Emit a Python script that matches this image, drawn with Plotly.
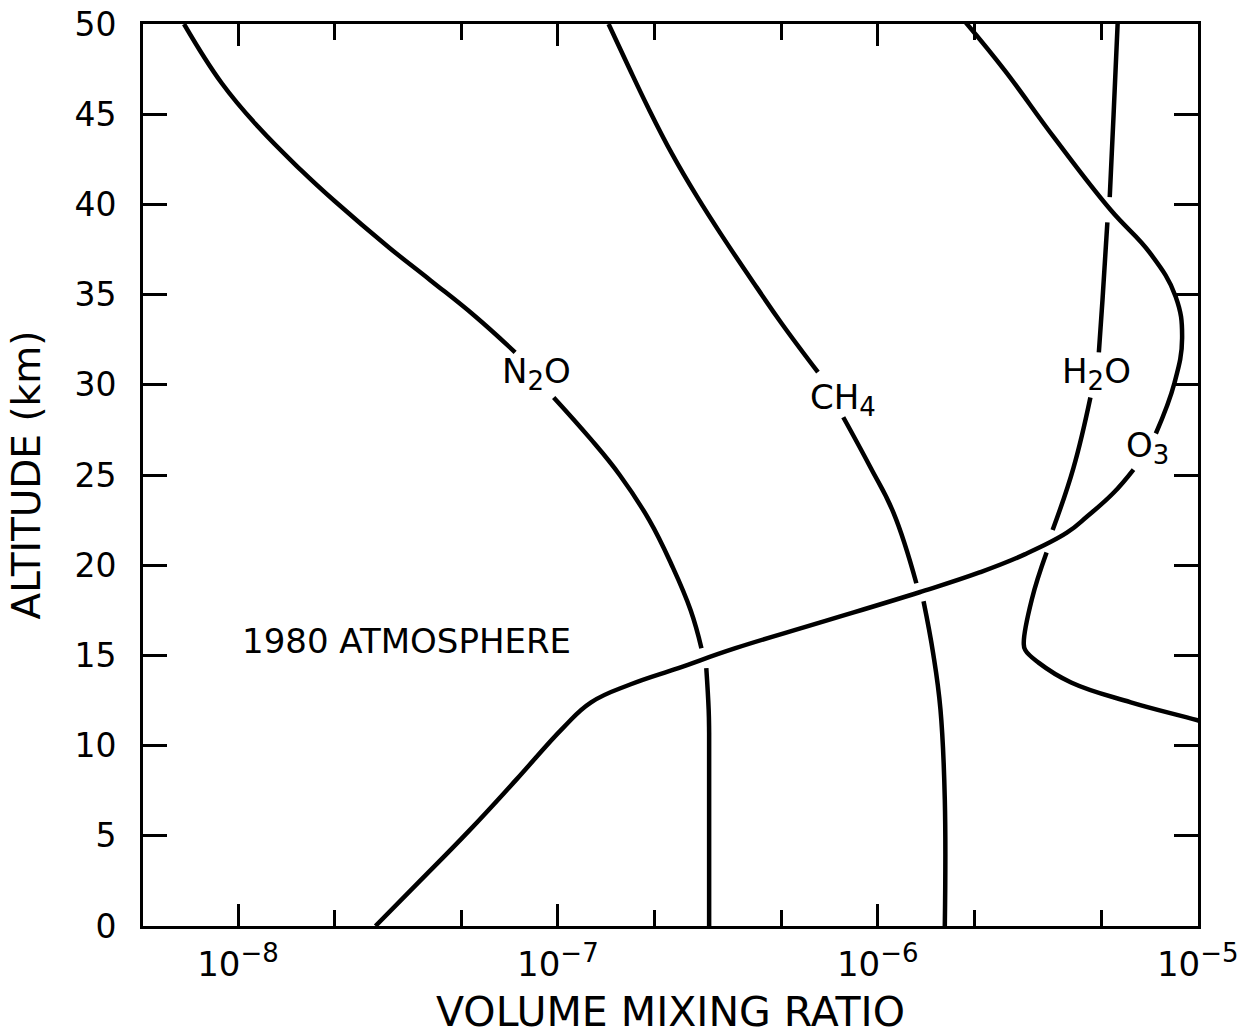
import plotly.graph_objects as go

FONT = "DejaVu Sans"

# ---------------- data ----------------
n2o_alt = [50, 46.7, 44.3, 41.9, 40.2, 37.6, 35.8, 33.8, 31.8, None,
           29.3, 27.0, 25.0, 22.5, 20.0, 17.5, 15.4, None,
           14.3, 12.0, 10.7, 5.0, 0]
n2o_vmr = [6.78e-9, 8.91e-9, 1.156e-8, 1.574e-8, 2.0e-8, 2.97e-8, 3.99e-8, 5.51e-8, 7.35e-8, None,
           9.7e-8, 1.265e-7, 1.56e-7, 1.93e-7, 2.27e-7, 2.60e-7, 2.81e-7, None,
           2.91e-7, 2.96e-7, 2.97e-7, 2.97e-7, 2.97e-7]

ch4_alt = [50, 47.8, 45.4, 42.8, 40.4, 38.2, 35.4, 33.4, 30.7, None,
           28.2, 25.4, 22.9, 19.0, None,
           18.0, 15.1, 12.0, 7.0, 0]
ch4_vmr = [1.44e-7, 1.646e-7, 1.91e-7, 2.274e-7, 2.729e-7, 3.275e-7, 4.183e-7, 5.006e-7, 6.50e-7, None,
           7.8e-7, 9.5e-7, 1.12e-6, 1.32e-6, None,
           1.39e-6, 1.49e-6, 1.57e-6, 1.62e-6, 1.62e-6]

h2o_alt = [50, 45, 40.4, None,
           39.0, 34.7, 31.8, None,
           29.3, 25.4, 21.95, None,
           20.7, 18.1, 15.7, 15.3, 14.6, 13.5, 12.4, 11.4, 10.8]
h2o_vmr = [5.62e-6, 5.46e-6, 5.31e-6, None,
           5.22e-6, 5.04e-6, 4.91e-6, None,
           4.62e-6, 4.09e-6, 3.52e-6, None,
           3.37e-6, 3.03e-6, 2.86e-6, 2.89e-6, 3.18e-6, 4.02e-6, 6.18e-6, 1.0e-5, 1.3e-5]

o3_alt = [0, 2.4, 5.3, 8.1, 11.0, 12.4, 13.4, 14.3, 15.4, 16.8, 18.5, 19.6, 20.6,
          21.8, 22.7, 24.0, 25.3, None,
          27.3, 30.1, 32.6, 34.9, 37.3, 39.7, 43.7, 47.4, 50.1]
o3_vmr = [2.69e-8, 3.66e-8, 5.29e-8, 7.40e-8, 1.04e-7, 1.27e-7, 1.69e-7, 2.38e-7, 3.59e-7,
          6.54e-7, 1.35e-6, 2.08e-6, 2.88e-6, 3.9e-6, 4.51e-6, 5.45e-6, 6.3e-6, None,
          7.4e-6, 8.46e-6, 8.94e-6, 8.53e-6, 7.1e-6, 5.34e-6, 3.56e-6, 2.5e-6, 1.88e-6]

major_ticks = [1e-8, 1e-7, 1e-6, 1e-5]
major_exp = ["−8", "−7", "−6", "−5"]
minor_ticks = [2e-8, 5e-8, 2e-7, 5e-7, 2e-6, 5e-6]
alt_ticks = [0, 5, 10, 15, 20, 25, 30, 35, 40, 45, 50]

# labels: (name, subscript, trailing text, log10 x, altitude)
labels = [
    ("N", "2", "O", -7.066, 30.6),
    ("CH", "4", "", -6.108, 29.2),
    ("H", "2", "O", -5.316, 30.6),
    ("O", "3", "", -5.156, 26.5),
]
note_text = "1980 ATMOSPHERE"
note_pos = (-7.474, 15.8)

SUB = "<sub><span style='font-size:26px'>{}</span></sub>"
major_text = ["10<sup><span style='font-size:26px'>{}</span></sup>".format(e) for e in major_exp]

fig = go.Figure()
for xs, ys in [(n2o_vmr, n2o_alt), (ch4_vmr, ch4_alt), (h2o_vmr, h2o_alt), (o3_vmr, o3_alt)]:
    fig.add_trace(go.Scatter(
        x=xs, y=ys, mode="lines",
        line=dict(color="black", width=4.5, shape="spline", smoothing=1.2),
        connectgaps=False, showlegend=False, hoverinfo="skip"))

for a, s, b, lx, la in labels:
    fig.add_annotation(x=lx, y=la, xref="x", yref="y", text=a + SUB.format(s) + b,
                       showarrow=False,
                       font=dict(family=FONT, size=34, color="black"),
                       xanchor="center", yanchor="middle")

fig.add_annotation(x=note_pos[0], y=note_pos[1], xref="x", yref="y", text=note_text,
                   showarrow=False, font=dict(family=FONT, size=34, color="black"),
                   xanchor="center", yanchor="middle")

fig.update_layout(
    width=1252, height=1036,
    margin=dict(l=143, r=54, t=24, b=110),
    paper_bgcolor="white", plot_bgcolor="white",
    font=dict(family=FONT, color="black"),
    xaxis=dict(
        type="log", range=[-8.297, -4.999], automargin=False,
        showline=True, linecolor="black", linewidth=3, mirror="ticks",
        ticks="inside", ticklen=22, tickwidth=2.5, tickcolor="black",
        tickmode="array", tickvals=major_ticks, ticktext=major_text,
        tickfont=dict(family=FONT, size=34, color="black"),
        ticklabelstandoff=6,
        showgrid=False, zeroline=False,
        minor=dict(tickmode="array", tickvals=minor_ticks, ticks="inside",
                   ticklen=16, tickwidth=2.5, tickcolor="black", showgrid=False),
        title=dict(text="VOLUME MIXING RATIO",
                   font=dict(family=FONT, size=41, color="black"),
                   standoff=22),
    ),
    yaxis=dict(
        range=[0, 50], automargin=False,
        showline=True, linecolor="black", linewidth=3, mirror="ticks",
        ticks="inside", ticklen=24, tickwidth=2.5, tickcolor="black",
        tickmode="array", tickvals=alt_ticks,
        tickfont=dict(family=FONT, size=33, color="black"),
        ticklabelstandoff=17,
        showgrid=False, zeroline=False,
        title=dict(text="ALTITUDE (km)", font=dict(family=FONT, size=39, color="black"),
                   standoff=22),
    ),
)

fig.write_html("out.html")
